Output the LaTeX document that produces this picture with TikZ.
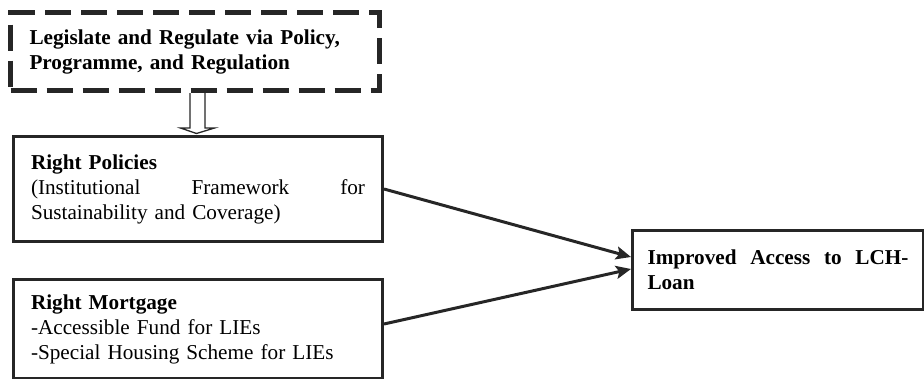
\documentclass[tikz,border=0pt]{standalone}
\usepackage{fontspec}
\setmainfont{Liberation Serif}
\usetikzlibrary{arrows.meta,calc}
\tikzset{
  txt/.style={font=\fontsize{21.2}{25}\selectfont, align=left},
  box/.style={txt, draw=black!85, line width=3pt, rectangle, inner ysep=0pt},
  dbox/.style={txt, draw=black!85, line width=5pt, rectangle, inner ysep=0pt,
    dash pattern=on 26pt off 10pt},
  conn/.style={draw=black!85, line width=3pt, -{Stealth[length=15pt,width=13pt,inset=3pt]}},
  hollow/.style={draw=black!85, line width=1.3pt, fill=white, line join=miter}
}
\begin{document}
\begin{tikzpicture}[x=1pt,y=-1pt]
\useasboundingbox (0,0) rectangle (924,378);
\node[dbox, anchor=north west, minimum width=369pt, minimum height=78pt,
  text width=331pt, inner xsep=19pt] (leg) at (8,10)
  {\textbf{Legislate and Regulate via Policy,}\\\textbf{Programme, and Regulation}};
\node[box, anchor=north west, minimum width=369pt, minimum height=105pt,
  text width=334pt, inner xsep=17.5pt] (pol) at (12,135)
  {\textbf{Right Policies}\\(Institutional\hfill Framework\hfill for\\Sustainability and Coverage)};
\node[box, anchor=north west, minimum width=369pt, minimum height=99pt,
  text width=334pt, inner xsep=17.5pt] (mort) at (12,278)
  {\textbf{Right Mortgage}\\-Accessible Fund for LIEs\\-Special Housing Scheme for LIEs};
\node[box, anchor=north west, minimum width=291pt, minimum height=79pt,
  text width=261pt, inner xsep=15pt] (imp) at (631,229)
  {\textbf{Improved\hfill Access\hfill to\hfill LCH-}\\\textbf{Loan}};
% hollow arrow from leg to pol
\coordinate (h0) at ($(leg.south)+(2.5,0)$);
\coordinate (t0) at ($(pol.north)+(-1.5,-1.5)$);
\draw[hollow] ($(h0)+(-7.5,0)$) -- ($(h0)+(-7.5,35)$) -- ($(h0)+(-17,35)$)
  -- (t0) -- ($(h0)+(17,35)$) -- ($(h0)+(7.5,35)$) -- ($(h0)+(7.5,0)$);
% connectors
\draw[conn] (pol.east) -- ($(imp.west)+(0,-13)$);
\draw[conn] ($(mort.east)+(0,-5)$) -- ($(imp.west)+(0,-1)$);
\end{tikzpicture}
\end{document}
